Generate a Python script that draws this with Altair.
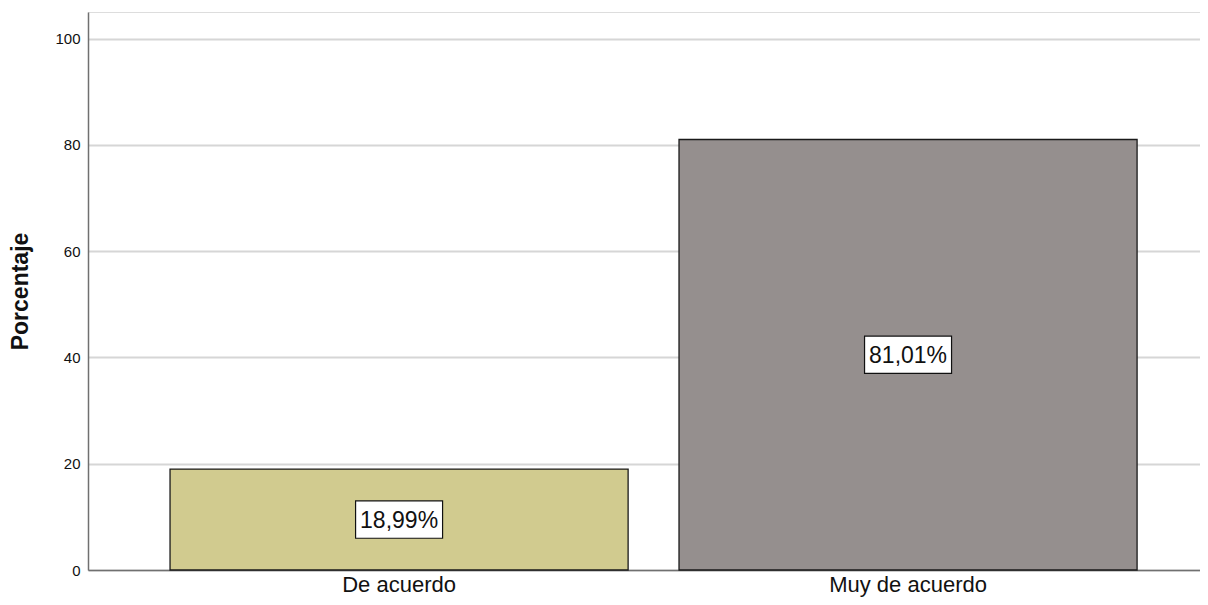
import altair as alt
import pandas as pd

categories = ["De acuerdo", "Muy de acuerdo"]
values = [18.99, 81.01]
colors = ["#d1cb8f", "#958f8e"]
y_ticks = [0, 20, 40, 60, 80, 100]

labels = [f"{v:.2f}".replace(".", ",") + "%" for v in values]
df = pd.DataFrame({
    "cat": categories,
    "val": values,
    "half": [v / 2 for v in values],
    "label": labels,
})

FONT = "Liberation Sans"

xscale = alt.Scale(domain=categories, paddingInner=0.1, paddingOuter=0.1424, align=0.566)
xenc = alt.X("cat:N", scale=xscale, sort=categories,
             axis=alt.Axis(title=None, labelAngle=0, ticks=False, labelFontSize=22,
                           labelPadding=4, labelColor="#111", labelFont=FONT,
                           domainColor="#707070", domainWidth=1.5, grid=False))

base = alt.Chart(df)

bars = base.mark_bar(stroke="#1a1a1a", strokeWidth=1.3).encode(
    x=xenc,
    y=alt.Y("val:Q", scale=alt.Scale(domain=[0, 105], nice=False),
            axis=alt.Axis(title="Porcentaje", values=y_ticks, ticks=False,
                          labelFontSize=15, labelPadding=8, labelColor="#111",
                          labelFont=FONT, titleFont=FONT, titleFontSize=23,
                          titleFontWeight="bold", titleColor="#111", titlePadding=22,
                          domainColor="#707070", domainWidth=1.5,
                          gridColor="#d6d6d6", gridWidth=2)),
    color=alt.Color("cat:N", scale=alt.Scale(domain=categories, range=colors), legend=None),
)

boxes = base.mark_point(
    shape="M-1,-0.43L1,-0.43L1,0.43L-1,0.43Z",
    filled=True, fill="white", stroke="#111", strokeWidth=1.2, opacity=1,
    size=87 * 87,
).encode(x=alt.X("cat:N", scale=xscale, sort=categories), y=alt.Y("half:Q"))

texts = base.mark_text(fontSize=23, font=FONT, color="#111", baseline="middle",
                       align="center", dy=1).encode(
    x=alt.X("cat:N", scale=xscale, sort=categories), y=alt.Y("half:Q"), text="label:N")

chart = alt.layer(bars, boxes, texts).properties(
    width=1112, height=558,
    autosize=alt.AutoSizeParams(type="none"),
    padding={"left": 80, "top": 4, "right": 0, "bottom": 27},
).configure_view(stroke=None).configure(background="white")

chart.save("out.html", embed_options={"renderer": "svg", "actions": False})
